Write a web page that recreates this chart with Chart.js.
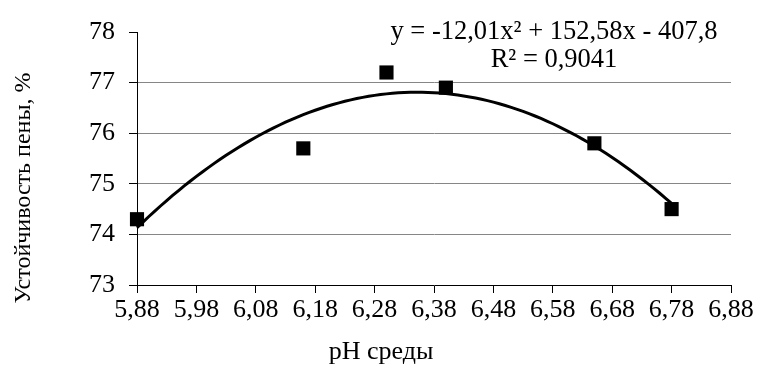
<!DOCTYPE html>
<html>
<head>
<meta charset="utf-8">
<script src="https://cdn.jsdelivr.net/npm/chart.js@4.4.1/dist/chart.umd.min.js"></script>
<style>
  html, body { margin: 0; padding: 0; background: #fff; }
  #wrap { width: 757px; height: 365px; }
</style>
</head>
<body>
<div id="wrap"><canvas id="foamChart" width="757" height="365"></canvas></div>
<script>
// measured points: pH vs foam stability
const phValues = [5.88, 6.16, 6.30, 6.40, 6.65, 6.78];
const foamStability = [74.3, 75.7, 77.2, 76.9, 75.8, 74.5];

// polynomial trend y = a*x^2 + b*x + c (as printed on the chart)
const trendCoef = [-12.01, 152.58, -407.8];
const trendLabel = ['y = -12,01x² + 152,58x - 407,8', 'R² = 0,9041'];

const xTickValues = [5.88, 5.98, 6.08, 6.18, 6.28, 6.38, 6.48, 6.58, 6.68, 6.78, 6.88];
const xTickLabels = ['5,88', '5,98', '6,08', '6,18', '6,28', '6,38', '6,48', '6,58', '6,68', '6,78', '6,88'];
const yTickLabels = ['73', '74', '75', '76', '77', '78'];

const xTitle = 'pH среды';
const yTitle = 'Устойчивость пены, %';

const FONT = '"Liberation Serif", "Times New Roman", serif';

function trendAt(x) {
  return trendCoef[0] * x * x + trendCoef[1] * x + trendCoef[2];
}

// curve over the measured pH range
const trendPoints = [];
const xFrom = phValues[0];
const xTo = phValues[phValues.length - 1];
for (let i = 0; i <= 90; i++) {
  const x = xFrom + (xTo - xFrom) * i / 90;
  trendPoints.push({ x: x, y: trendAt(x) });
}

const textPlugin = {
  id: 'chartTexts',
  afterDraw(chart) {
    const ctx = chart.ctx;
    ctx.save();
    ctx.fillStyle = '#000';
    ctx.textAlign = 'center';
    ctx.textBaseline = 'alphabetic';

    ctx.font = '26.5px ' + FONT;
    ctx.fillText(trendLabel[0], 554, 39);
    ctx.fillText(trendLabel[1], 554, 67);

    ctx.font = '26px ' + FONT;
    ctx.fillText(xTitle, 381, 359);

    ctx.font = '24px ' + FONT;
    ctx.translate(30, 188);
    ctx.rotate(-Math.PI / 2);
    ctx.fillText(yTitle, 0, 0);
    ctx.restore();
  }
};

new Chart(document.getElementById('foamChart'), {
  data: {
    datasets: [
      {
        type: 'scatter',
        data: phValues.map((x, i) => ({ x: x, y: foamStability[i] })),
        pointStyle: 'rect',
        pointRadius: 10,
        pointBackgroundColor: '#000',
        pointBorderWidth: 0,
        clip: false,
        order: 1
      },
      {
        type: 'line',
        data: trendPoints,
        borderColor: '#000',
        borderWidth: 3,
        pointRadius: 0,
        tension: 0,
        fill: false,
        clip: false,
        order: 2
      }
    ]
  },
  options: {
    responsive: false,
    animation: false,
    layout: { padding: { left: 0, right: 26, top: 32, bottom: 0 } },
    plugins: {
      legend: { display: false },
      tooltip: { enabled: false }
    },
    scales: {
      x: {
        type: 'linear',
        min: 5.88,
        max: 6.88,
        afterBuildTicks: scale => { scale.ticks = xTickValues.map(v => ({ value: v })); },
        afterFit: scale => { scale.height = 80; },
        grid: { drawOnChartArea: false, drawTicks: true, tickLength: 8, color: '#000' },
        border: { color: '#000', width: 1 },
        ticks: {
          autoSkip: false,
          maxRotation: 0,
          padding: 2,
          color: '#000',
          font: { family: FONT, size: 26 },
          callback: (v, i) => xTickLabels[i]
        }
      },
      y: {
        type: 'linear',
        min: 73,
        max: 78,
        afterFit: scale => { scale.width = 137; },
        grid: {
          color: c => (c.tick && (c.tick.value === 78 || c.tick.value === 73)) ? 'rgba(0,0,0,0)' : '#868686',
          tickColor: '#000',
          tickLength: 8,
          lineWidth: 1
        },
        border: { color: '#000', width: 1 },
        ticks: {
          stepSize: 1,
          padding: 14,
          color: '#000',
          font: { family: FONT, size: 26 },
          callback: (v, i) => yTickLabels[i]
        }
      }
    }
  },
  plugins: [textPlugin]
});
</script>
</body>
</html>
